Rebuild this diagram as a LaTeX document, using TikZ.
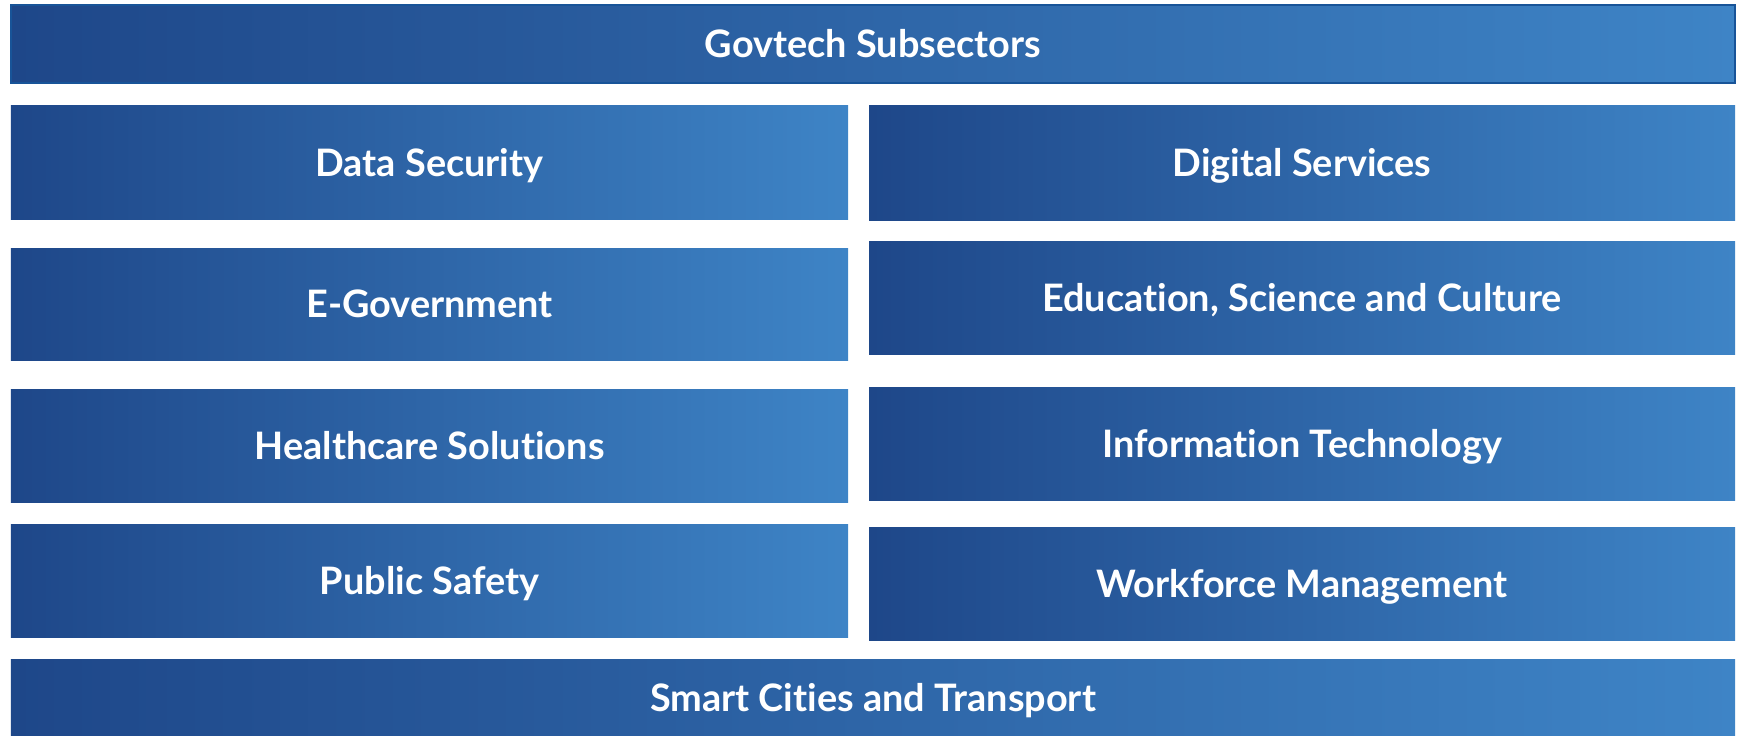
\documentclass[tikz,border=0pt]{standalone}
\usepackage{fontspec}
\setmainfont[Ligatures=NoCommon]{Lato}
\usepackage{tikz}
\definecolor{govdark}{RGB}{30,71,137}
\definecolor{govlight}{RGB}{62,132,198}
\definecolor{govedge}{RGB}{24,84,152}
\tikzstyle{sector} = [rectangle, inner sep=0pt, left color=govdark, right color=govlight, text=white, font=\fontsize{38}{44}\selectfont\bfseries, text height=27bp, text depth=0pt, text centered]
\tikzstyle{lbox} = [sector, minimum width=837bp, minimum height=113bp]
\tikzstyle{rbox} = [sector, minimum width=866bp, minimum height=113bp]
\tikzstyle{bar} = [sector, minimum width=1724bp, minimum height=78bp]

\begin{document}
\begin{tikzpicture}[x=1bp, y=-1bp]
\useasboundingbox (0,0) rectangle (1737,736);

\node (head) [bar, draw=govedge, line width=1.5bp] at (873,44) {Govtech Subsectors};

\node (datasec) [lbox] at (429.5,162.5) {Data Security};
\node (egov) [lbox, minimum height=112bp] at (429.5,304) {E-Government};
\node (health) [lbox] at (429.5,445.5) {Healthcare Solutions};
\node (safety) [lbox] at (429.5,580.5) {Public Safety};

\node (digserv) [rbox, minimum height=114bp] at (1302,163) {Digital Services};
\node (educ) [rbox] at (1302,297.5) {Education, Science and Culture};
\node (infotech) [rbox] at (1302,443.5) {Information Technology};
\node (workforce) [rbox] at (1302,583.5) {Workforce Management};

\node (smart) [bar, minimum height=77bp] at (873,697.5) {Smart Cities and Transport};
\end{tikzpicture}
\end{document}
